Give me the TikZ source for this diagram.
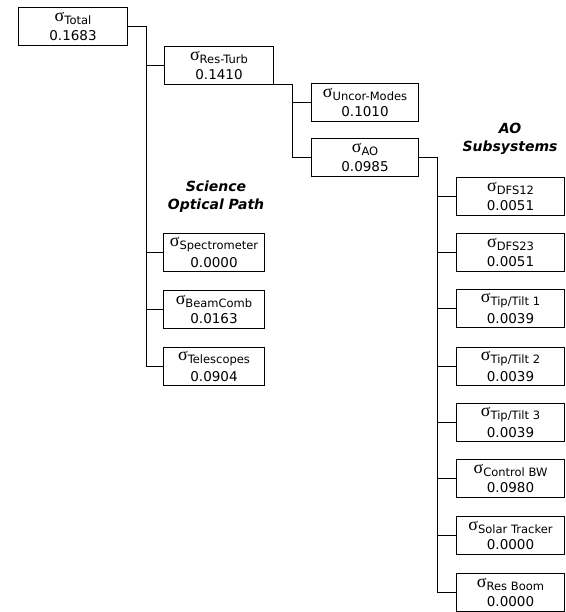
\documentclass[tikz,border=0pt]{standalone}
\usepackage{fontspec}
\setmainfont{DejaVu Sans}
\newfontfamily\sgfont{Liberation Serif}

% sigma with subscript over its value
\newcommand{\sig}[2]{{\sgfont\fontsize{18}{18}\selectfont σ}\raisebox{-2.5pt}{\fontsize{11.5}{12}\selectfont #1}\\[5pt]#2}

\begin{document}
\begin{tikzpicture}[x=1pt,y=-1pt,
    box/.style={draw,line width=1pt,rectangle,inner sep=0pt,minimum height=38pt,anchor=north west,align=center,font=\fontsize{13.5}{14}\selectfont},
    grp/.style={font=\bfseries\itshape\fontsize{14}{18}\selectfont,align=center},
    wire/.style={line width=1pt}]
	  \useasboundingbox (0,0) rectangle (565,612);

	  % top of the tree
	  \node[box,minimum width=109pt] (total) at (18,7) {\sig{Total}{0.1683}};
	  \node[box,minimum width=109pt] (resturb) at (164,46) {\sig{Res-Turb}{0.1410}};
	  \node[box,minimum width=107pt] (uncor) at (311,83) {\sig{Uncor-Modes}{0.1010}};
	  \node[box,minimum width=107pt] (ao) at (311,138) {\sig{AO}{0.0985}};

	  % science optical path
	  \node[grp] (sci) at (216,197) {Science\\Optical Path};
	  \node[box,minimum width=101pt] (spec) at (163,233) {\sig{Spectrometer}{0.0000}};
	  \node[box,minimum width=101pt] (beam) at (163,290) {\sig{BeamComb}{0.0163}};
	  \node[box,minimum width=101pt] (tele) at (163,347) {\sig{Telescopes}{0.0904}};

	  % AO subsystems
	  \node[grp] (aosub) at (510,139) {AO\\Subsystems};
	  \node[box,minimum width=108pt] (dfs12) at (456,177) {\sig{DFS12}{0.0051}};
	  \node[box,minimum width=108pt] (dfs23) at (456,233) {\sig{DFS23}{0.0051}};
	  \node[box,minimum width=108pt] (tt1) at (456,289) {\sig{Tip/Tilt 1}{0.0039}};
	  \node[box,minimum width=108pt] (tt2) at (456,347) {\sig{Tip/Tilt 2}{0.0039}};
	  \node[box,minimum width=108pt] (tt3) at (456,403) {\sig{Tip/Tilt 3}{0.0039}};
	  \node[box,minimum width=108pt] (cbw) at (456,459) {\sig{Control BW}{0.0980}};
	  \node[box,minimum width=108pt] (solar) at (456,516) {\sig{Solar Tracker}{0.0000}};
	  \node[box,minimum width=108pt] (boom) at (456,573) {\sig{Res Boom}{0.0000}};

	  % trunks
	  \coordinate (trunkA) at (146,0);
	  \coordinate (trunkB) at (292,0);
	  \coordinate (trunkC) at (437,0);

	  \draw[wire] (total.east) -| (trunkA |- tele.west) -- (tele.west);
	  \foreach \n in {resturb,spec,beam}
	    \draw[wire] (trunkA |- \n.west) -- (\n.west);

	  \draw[wire] (resturb.south east) -| (trunkB |- ao.west) -- (ao.west);
	  \draw[wire] (trunkB |- uncor.west) -- (uncor.west);

	  \draw[wire] (ao.east) -| (trunkC |- boom.west) -- (boom.west);
	  \foreach \n in {dfs12,dfs23,tt1,tt2,tt3,cbw,solar}
	    \draw[wire] (trunkC |- \n.west) -- (\n.west);

\end{tikzpicture}
\end{document}
